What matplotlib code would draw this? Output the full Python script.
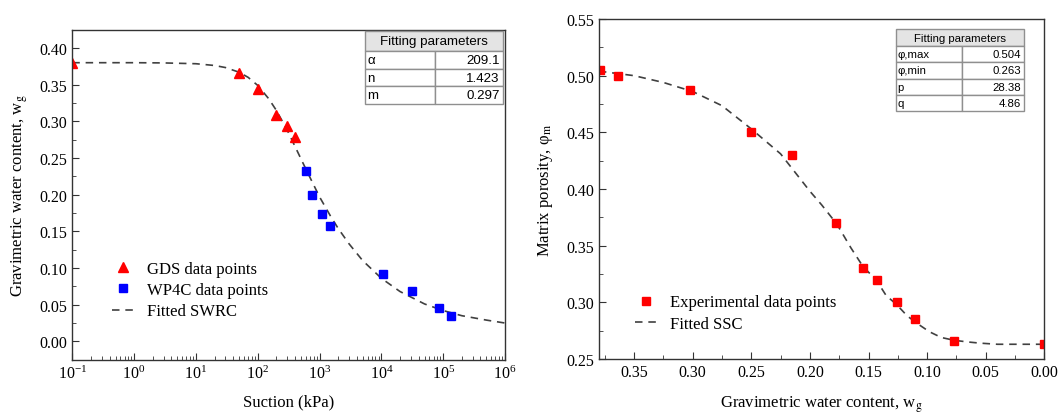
import matplotlib
matplotlib.use('Agg')
import matplotlib.pyplot as plt
import matplotlib.ticker as ticker
from matplotlib.patches import Rectangle
from matplotlib.lines import Line2D

# SWRC (left panel)
gds_suction = [0.1, 50, 100, 200, 300, 400]
gds_w = [0.380, 0.366, 0.344, 0.309, 0.294, 0.278]
wp4c_suction = [607, 767, 1086, 1500, 10670, 30900, 85700, 132000]
wp4c_w = [0.232, 0.200, 0.174, 0.158, 0.092, 0.069, 0.046, 0.035]
swrc_fit_suction = [0.1, 1, 3, 10, 20, 30, 50, 70, 100, 150, 200, 300, 400, 600,
                    1000, 1500, 2000, 3000, 5000, 1e4, 2e4, 5e4, 1e5, 2e5, 5e5, 1e6]
swrc_fit_w = [0.380, 0.380, 0.3797, 0.3786, 0.3762, 0.3734, 0.367, 0.360, 0.349,
              0.331, 0.315, 0.288, 0.266, 0.235, 0.197, 0.171, 0.154, 0.133, 0.110,
              0.086, 0.068, 0.051, 0.042, 0.035, 0.029, 0.025]
swrc_param_names = ["α", "n", "m"]
swrc_param_values = ["209.1", "1.423", "0.297"]

# SSC (right panel)
exp_w = [0.379, 0.364, 0.302, 0.250, 0.215, 0.178, 0.155, 0.143, 0.126, 0.110, 0.077, 0.0]
exp_phi = [0.505, 0.500, 0.487, 0.450, 0.430, 0.370, 0.330, 0.320, 0.300, 0.285, 0.266, 0.263]
ssc_fit_w = [0.38, 0.365, 0.35, 0.325, 0.30, 0.275, 0.25, 0.225, 0.20, 0.19, 0.177,
             0.165, 0.155, 0.143, 0.135, 0.126, 0.117, 0.108, 0.098, 0.088, 0.077,
             0.065, 0.055, 0.04, 0.025, 0.0]
ssc_fit_phi = [0.504, 0.502, 0.500, 0.494, 0.486, 0.4735, 0.453, 0.431, 0.398, 0.386,
               0.369, 0.348, 0.332, 0.319, 0.306, 0.298, 0.288, 0.281, 0.274, 0.269,
               0.2665, 0.265, 0.264, 0.263, 0.263, 0.263]
ssc_param_names = ["φ,max", "φ,min", "p", "q"]
ssc_param_values = ["0.504", "0.263", "28.38", "4.86"]

plt.rcParams['font.family'] = ['Liberation Serif', 'DejaVu Serif']
plt.rcParams['mathtext.fontset'] = 'stix'
plt.rcParams['font.size'] = 11.5

W, H = 1062, 414
fig = plt.figure(figsize=(W / 100, H / 100), dpi=100)

frame_col = '#333333'
dash_col = '#404040'


def px_axes(x0, y0, x1, y1):
    return fig.add_axes([x0 / W, 1 - y1 / H, (x1 - x0) / W, (y1 - y0) / H])


def style_axes(ax):
    for s in ax.spines.values():
        s.set_color(frame_col)
        s.set_linewidth(1.0)
    ax.tick_params(which='both', direction='in', top=False, right=False, colors=frame_col,
                   labelcolor='black', labelsize=11.5)
    ax.tick_params(which='major', length=5)
    ax.tick_params(which='minor', length=3)


def draw_table(x0, x1, xs, y0, hh, rh, names, values, fs):
    sans = ['Liberation Sans', 'DejaVu Sans']
    ec = '#8f8f8f'
    n = len(names)
    fig.patches.append(Rectangle((x0 / W, 1 - (y0 + hh) / H), (x1 - x0) / W, hh / H,
                                 transform=fig.transFigure, facecolor='#e4e4e4',
                                 edgecolor=ec, lw=1))
    fig.text((x0 + x1) / 2 / W, 1 - (y0 + hh / 2) / H, "Fitting parameters",
             ha='center', va='center', fontsize=fs, family=sans)
    for i in range(n):
        top = y0 + hh + i * rh
        for a, b in [(x0, xs), (xs, x1)]:
            fig.patches.append(Rectangle((a / W, 1 - (top + rh) / H), (b - a) / W, rh / H,
                                         transform=fig.transFigure, facecolor='white',
                                         edgecolor=ec, lw=1))
        fig.text((x0 + 2) / W, 1 - (top + rh / 2) / H, names[i], ha='left', va='center',
                 fontsize=fs, family=sans)
        fig.text((x1 - 3) / W, 1 - (top + rh / 2) / H, values[i], ha='right', va='center',
                 fontsize=fs, family=sans)


# left panel
ax1 = px_axes(72.3, 30.7, 505, 360.7)
ax1.plot(swrc_fit_suction, swrc_fit_w, color=dash_col, lw=1.2, dashes=(4.5, 3.5))
ax1.plot(gds_suction, gds_w, '^', color='#ff0000', ms=7, mec='#ff0000')
ax1.plot(wp4c_suction, wp4c_w, 's', color='#0000ff', ms=5.5, mec='#0000ff')
ax1.set_xscale('log')
ax1.set_xlim(0.1, 1e6)
ax1.set_ylim(-0.025, 0.425)
ax1.xaxis.set_major_locator(ticker.LogLocator(base=10, numticks=10))
ax1.xaxis.set_minor_locator(ticker.LogLocator(base=10, subs=range(2, 10), numticks=20))
ax1.yaxis.set_major_locator(ticker.MultipleLocator(0.05))
ax1.yaxis.set_minor_locator(ticker.MultipleLocator(0.025))
ax1.yaxis.set_major_formatter(ticker.FormatStrFormatter('%.2f'))
style_axes(ax1)
ax1.set_xlabel("Suction (kPa)", fontsize=12, labelpad=8)
ax1.set_ylabel(r"Gravimetric water content, w$_\mathrm{g}$", fontsize=12, labelpad=7)
h1 = [Line2D([], [], ls='none', marker='^', color='#ff0000', ms=7),
      Line2D([], [], ls='none', marker='s', color='#0000ff', ms=5.5),
      Line2D([], [], color=dash_col, lw=1.2, dashes=(4.5, 3.5))]
ax1.legend(h1, ["GDS data points", "WP4C data points", "Fitted SWRC"], loc='upper left',
           bbox_to_anchor=(0.091, 0.300), frameon=False, fontsize=12, borderpad=0,
           borderaxespad=0, handlelength=1.3, handletextpad=0.8, labelspacing=0.32)
draw_table(365, 502.5, 435, 32, 20, 17.7, swrc_param_names, swrc_param_values, 9.6)

# right panel
ax2 = px_axes(598.9, 20, 1044.4, 360)
ax2.plot(ssc_fit_w, ssc_fit_phi, color=dash_col, lw=1.2, dashes=(4.5, 3.5))
ax2.plot(exp_w, exp_phi, 's', color='#ff0000', ms=5.5, mec='#ff0000')
ax2.set_xlim(0.38, 0.0)
ax2.set_ylim(0.25, 0.55)
ax2.xaxis.set_major_locator(ticker.MultipleLocator(0.05))
ax2.xaxis.set_minor_locator(ticker.MultipleLocator(0.025))
ax2.yaxis.set_major_locator(ticker.MultipleLocator(0.05))
ax2.yaxis.set_minor_locator(ticker.MultipleLocator(0.025))
ax2.xaxis.set_major_formatter(ticker.FormatStrFormatter('%.2f'))
ax2.yaxis.set_major_formatter(ticker.FormatStrFormatter('%.2f'))
style_axes(ax2)
ax2.set_xlabel(r"Gravimetric water content, w$_\mathrm{g}$", fontsize=12, labelpad=10)
ax2.set_ylabel(r"Matrix porosity, φ$_\mathrm{m}$", fontsize=12, labelpad=8)
h2 = [Line2D([], [], ls='none', marker='s', color='#ff0000', ms=5.5),
      Line2D([], [], color=dash_col, lw=1.2, dashes=(4.5, 3.5))]
ax2.legend(h2, ["Experimental data points", "Fitted SSC"], loc='upper left',
           bbox_to_anchor=(0.081, 0.190), frameon=False, fontsize=12, borderpad=0,
           borderaxespad=0, handlelength=1.3, handletextpad=0.8, labelspacing=0.32)
draw_table(895.7, 1024.3, 962, 30.3, 16.7, 16.3, ssc_param_names, ssc_param_values, 8.2)

fig.savefig("out.png", dpi=100)
